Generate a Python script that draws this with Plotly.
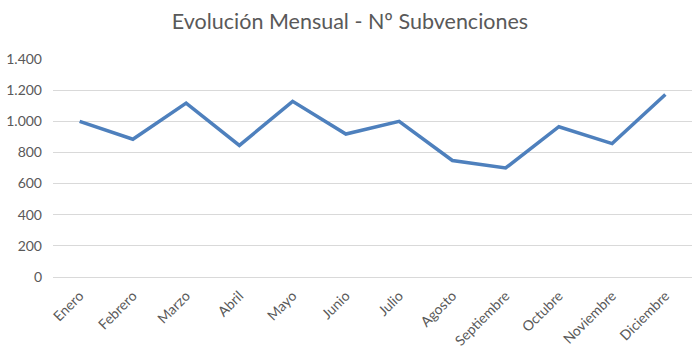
import plotly.graph_objects as go

meses = ["Enero", "Febrero", "Marzo", "Abril", "Mayo", "Junio", "Julio",
         "Agosto", "Septiembre", "Octubre", "Noviembre", "Diciembre"]
subvenciones = [1000, 885, 1117, 845, 1128, 918, 1000, 748, 700, 965, 857, 1172]
y_ticks = [0, 200, 400, 600, 800, 1000, 1200, 1400]

fig = go.Figure()
fig.add_trace(go.Scatter(
    x=meses, y=subvenciones, mode="lines",
    line=dict(color="#4E80BD", width=3.5),
    hoverinfo="skip", showlegend=False,
))

font_fam = "Lato, Open Sans, sans-serif"
fig.update_layout(
    width=700, height=355,
    margin=dict(l=53, r=8, t=59, b=78),
    paper_bgcolor="white", plot_bgcolor="white",
    separators=",.",
    title=dict(text="Evolución Mensual - Nº Subvenciones", x=0.5, xanchor="center",
               y=0.94, yanchor="middle", font=dict(family=font_fam, size=21.5, color="#595959")),
    font=dict(family=font_fam, size=12, color="#595959"),
)
fig.update_xaxes(
    type="category", range=[-0.5, 11.5], showgrid=False, showline=False,
    tickangle=-45, ticks="", tickfont=dict(size=14, color="#595959"),
    ticklabelstandoff=7, automargin=False,
)
fig.update_yaxes(
    range=[0, 1400], tickvals=y_ticks, tickformat=",d",
    showgrid=True, gridcolor="#D9D9D9", gridwidth=1,
    zeroline=True, zerolinecolor="#D9D9D9", zerolinewidth=1,
    showline=False, ticks="", ticklen=0, tickfont=dict(size=14, color="#595959"),
    ticklabelstandoff=10, automargin=False,
)
fig.write_html("out.html", config={"displayModeBar": False, "staticPlot": True},
               post_script="document.body.style.margin='0';")
